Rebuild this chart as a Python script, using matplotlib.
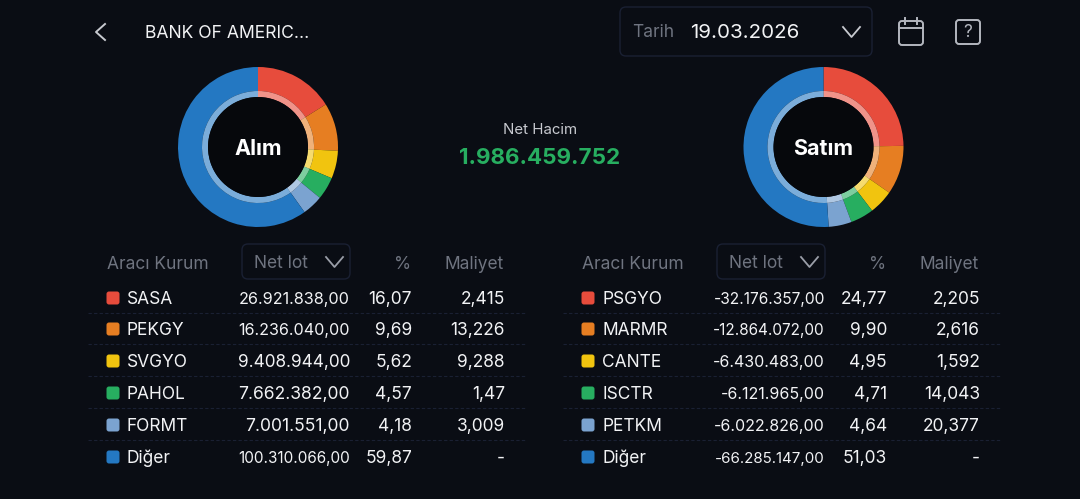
import matplotlib
matplotlib.use("Agg")
import matplotlib.pyplot as plt
from matplotlib.patches import FancyBboxPatch, Circle

plt.rcParams['font.family'] = ['Inter', 'DejaVu Sans']

# === data ===
buy_names = ['SASA', 'PEKGY', 'SVGYO', 'PAHOL', 'FORMT', 'Diğer']
buy_lots = ['26.921.838,00', '16.236.040,00', '9.408.944,00', '7.662.382,00', '7.001.551,00', '100.310.066,00']
buy_pct = [16.07, 9.69, 5.62, 4.57, 4.18, 59.87]
buy_cost = ['2,415', '13,226', '9,288', '1,47', '3,009', '-']

sell_names = ['PSGYO', 'MARMR', 'CANTE', 'ISCTR', 'PETKM', 'Diğer']
sell_lots = ['-32.176.357,00', '-12.864.072,00', '-6.430.483,00', '-6.121.965,00', '-6.022.826,00', '-66.285.147,00']
sell_pct = [24.77, 9.90, 4.95, 4.71, 4.64, 51.03]
sell_cost = ['2,205', '2,616', '1,592', '14,043', '20,377', '-']

net_volume = '1.986.459.752'
date_label = '19.03.2026'
title = 'BANK OF AMERIC...'

# === style ===
BG = '#0a0d14'
WHITE = '#f2f3f5'
GRAY = '#6f7480'
BORDER = '#1a2033'
colors = ['#e74c3c', '#e67e22', '#f1c40f', '#27ae60', '#7ba3d0', '#2478c2']

# the app shrinks long lot values so they fit the column
buy_lot_sizes = [11.7, 11.6, 12.4, 12.6, 12.6, 11.0]
sell_lot_sizes = [11.2, 11.0, 11.5, 11.5, 11.5, 10.9]

W, H = 1080, 499
TXT = 1.5  # inter sits a bit high with va=center
fig = plt.figure(figsize=(W / 100, H / 100), dpi=100, facecolor=BG)

# full figure axes in pixel coords for the ui parts
ax = fig.add_axes([0, 0, 1, 1])
ax.set_xlim(0, W)
ax.set_ylim(H, 0)
ax.axis('off')


def label(x, y, s, color=WHITE, size=12.5, ha='left', weight='normal'):
    ax.text(x, y + TXT, s, color=color, fontsize=size, ha=ha, va='center', fontweight=weight)


def rounded_box(x0, y0, x1, y1, radius=6, **kw):
    ax.add_patch(FancyBboxPatch((x0, y0), x1 - x0, y1 - y0,
                                boxstyle=f'round,pad=0,rounding_size={radius}', **kw))


def chevron(x0, x1, y0, y1, color=WHITE, lw=1.3):
    ax.plot([x0, (x0 + x1) / 2, x1], [y0, y1, y0], color=color, lw=lw)


def donut(cx, cy, values, name):
    r = 80
    d = fig.add_axes([(cx - r) / W, 1 - (cy + r) / H, 2 * r / W, 2 * r / H])
    d.pie(values, colors=colors, startangle=90, counterclock=False, radius=1,
          wedgeprops=dict(width=0.3, linewidth=0))
    d.pie(values, colors=colors, startangle=90, counterclock=False, radius=0.7,
          wedgeprops=dict(width=0.075, linewidth=0))
    # lighter inner ring
    d.pie(values, colors=['white'] * 6, startangle=90, counterclock=False, radius=0.7,
          wedgeprops=dict(width=0.075, linewidth=0, alpha=0.4))
    d.add_patch(Circle((0, 0), 0.625, fc='#06080c', ec='none'))
    d.set_xlim(-1, 1)
    d.set_ylim(-1, 1)
    d.text(0, -0.02, name, color='white', fontsize=15.5, fontweight='bold', ha='center', va='center')


def panel(dx, names, lots, lot_sizes, pct, cost):
    label(107 + dx, 263, 'Aracı Kurum', GRAY)
    rounded_box(242 + dx, 244, 350 + dx, 279, radius=6, fc='none', ec=BORDER, lw=1)
    label(254 + dx, 262, 'Net lot', GRAY)
    chevron(326 + dx, 343 + dx, 257, 267, color='#9a9ea8')
    label(411 + dx, 263, '%', GRAY, ha='right')
    label(504 + dx, 263, 'Maliyet', GRAY, ha='right')

    row_y = [298, 329, 361, 393, 425, 457]
    for i, y in enumerate(row_y):
        rounded_box(106.5 + dx, y - 6.5, 119.5 + dx, y + 6.5, radius=2.5, fc=colors[i], ec='none')
        label(127 + dx, y, names[i])
        label(350 + dx, y, lots[i], size=lot_sizes[i], ha='right')
        label(412 + dx, y, f'{pct[i]:.2f}'.replace('.', ','), ha='right')
        label(505 + dx, y, cost[i], ha='right')
        if i < 5:
            ax.plot([88 + dx, 525 + dx], [y + 15, y + 15], color=BORDER, lw=0.8, ls=(0, (3, 2)))


# === header ===
ax.plot([105, 96, 105], [24, 32, 40], color='#c8cad0', lw=1.4)
label(145, 32, title, size=12.65)

rounded_box(620, 7, 872, 56, radius=6, fc='none', ec=BORDER, lw=1)
label(632, 31, 'Tarih', GRAY)
label(690, 31, date_label, size=14.8)
chevron(843, 860, 27, 37, color='#c8cad0')

# calendar icon
rounded_box(899, 21, 923, 45, radius=3, fc='none', ec='#b4b7bf', lw=1.4)
ax.plot([899, 923], [28, 28], color='#b4b7bf', lw=1.4)
ax.plot([905, 905], [18, 24], color='#b4b7bf', lw=1.4)
ax.plot([917, 917], [18, 24], color='#b4b7bf', lw=1.4)
# help icon
rounded_box(956, 20, 980, 44, radius=3, fc='none', ec='#b4b7bf', lw=1.4)
label(968, 31, '?', '#b4b7bf', size=12.5, ha='center')

# === center ===
label(540, 129, 'Net Hacim', '#c8cad0', size=10.8, ha='center')
label(540, 156, net_volume, '#27ae60', size=16.1, ha='center', weight='bold')

donut(258, 147, buy_pct, 'Alım')
donut(823.5, 147, sell_pct, 'Satım')

panel(0, buy_names, buy_lots, buy_lot_sizes, buy_pct, buy_cost)
panel(475, sell_names, sell_lots, sell_lot_sizes, sell_pct, sell_cost)

fig.savefig('out.png', dpi=100, facecolor=BG)
